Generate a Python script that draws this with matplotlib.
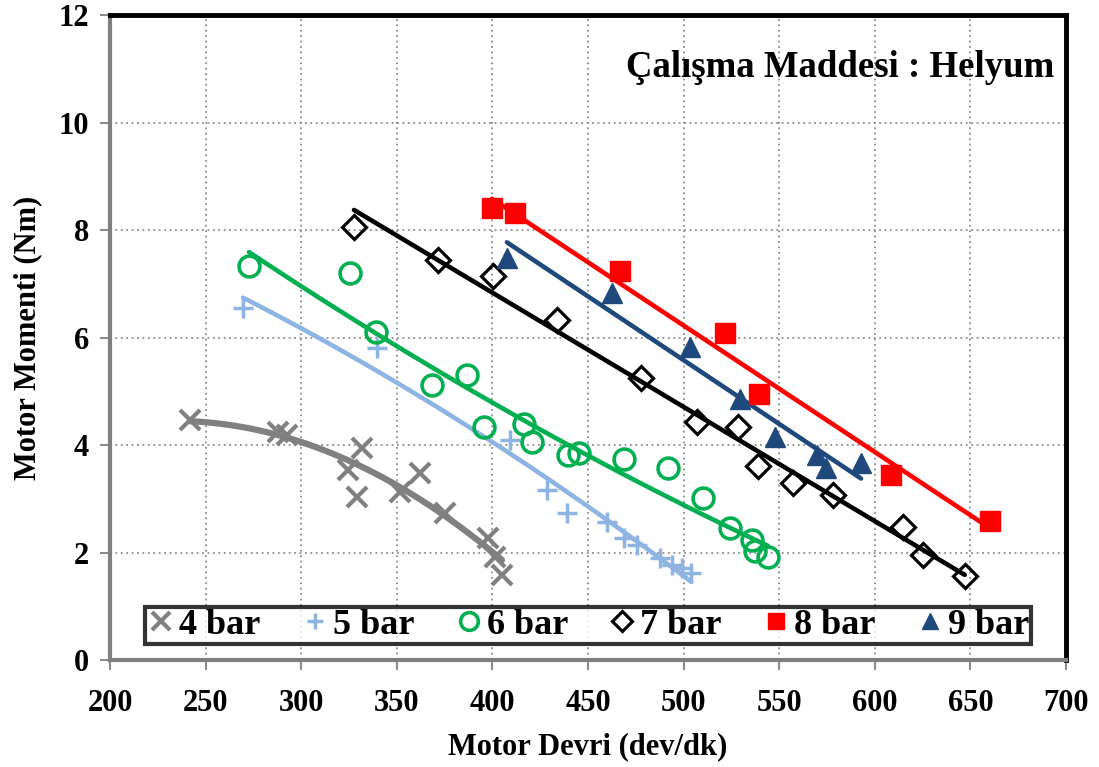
import numpy as np
import matplotlib
matplotlib.use("Agg")
import matplotlib.pyplot as plt
from matplotlib.lines import Line2D

# ---- data ----
x4 = [241.8, 288.0, 292.7, 324.5, 331.8, 329.0, 351.7, 362.0, 375.0, 397.7, 401.4, 405.0]
y4 = [4.47, 4.24, 4.19, 3.53, 3.94, 3.03, 3.13, 3.48, 2.73, 2.27, 1.92, 1.58]

x5 = [269.6, 339.6, 409.2, 428.6, 439.0, 460.0, 469.0, 475.6, 487.7, 494.0, 499.0, 504.0]
y5 = [6.55, 5.80, 4.09, 3.16, 2.73, 2.57, 2.27, 2.14, 1.90, 1.77, 1.71, 1.62]

x6 = [272.7, 325.5, 339.0, 368.4, 386.7, 395.6, 416.5, 420.7, 439.5, 445.3, 468.8, 491.8,
      510.0, 524.3, 535.8, 537.3, 544.0]
y6 = [7.33, 7.20, 6.10, 5.12, 5.30, 4.33, 4.40, 4.06, 3.81, 3.85, 3.74, 3.57,
      3.01, 2.45, 2.23, 2.02, 1.92]

x7 = [327.6, 371.5, 400.3, 433.8, 477.7, 507.0, 528.5, 539.0, 557.0, 578.0, 614.7, 625.0, 647.0]
y7 = [8.06, 7.44, 7.14, 6.33, 5.25, 4.43, 4.33, 3.61, 3.29, 3.07, 2.47, 1.95, 1.57]

x8 = [399.8, 411.8, 466.7, 521.6, 539.4, 608.5, 660.3]
y8 = [8.41, 8.31, 7.24, 6.08, 4.95, 3.44, 2.59]

x9 = [407.6, 462.6, 503.3, 529.5, 547.8, 569.8, 574.5, 592.8]
y9 = [7.48, 6.83, 5.82, 4.85, 4.15, 3.81, 3.57, 3.66]

labels = ["4 bar", "5 bar", "6 bar", "7 bar", "8 bar", "9 bar"]
fit_deg = [2, 2, 2, 1, 1, 1]
title_text = "Çalışma Maddesi : Helyum"
xlabel = "Motor Devri (dev/dk)"
ylabel = "Motor Momenti (Nm)"
xticks = [200, 250, 300, 350, 400, 450, 500, 550, 600, 650, 700]
yticks = [0, 2, 4, 6, 8, 10, 12]

# ---- styles ----
colors = ["#808080", "#8DB4E2", "#00B050", "#000000", "#FF0000", "#1F497D"]
markers = ["x", "+", "o", "D", "s", "^"]
msizes = [15, 14, 15, 12, 14, 14]
mews = [3, 2.5, 2.6, 2.3, 1, 1]
filled = [True, True, False, False, True, True]
lws = [4.5, 3.3, 3.3, 3.3, 3.3, 3.3]

plt.rcParams['font.family'] = ['Liberation Serif', 'DejaVu Serif']
plt.rcParams['font.weight'] = 'bold'

fig = plt.figure(figsize=(10.99, 7.67), dpi=100)
ax = fig.add_axes([0.1001, 0.1395, 0.8699, 0.8409])

xs = [x4, x5, x6, x7, x8, x9]
ys = [y4, y5, y6, y7, y8, y9]

handles = []
for i in range(6):
    x = np.array(xs[i]); y = np.array(ys[i])
    c = np.polyfit(x, y, fit_deg[i])
    xx = np.linspace(x.min(), x.max(), 100)
    ax.plot(xx, np.polyval(c, xx), color=colors[i], lw=lws[i], zorder=3,
            solid_capstyle='round')
    if filled[i]:
        ax.plot(x, y, linestyle='none', marker=markers[i], ms=msizes[i],
                mew=mews[i], color=colors[i], zorder=4)
    else:
        ax.plot(x, y, linestyle='none', marker=markers[i], ms=msizes[i],
                mew=mews[i], markeredgecolor=colors[i], markerfacecolor='none', zorder=4)
    h = Line2D([], [], linestyle='none', marker=markers[i], ms=msizes[i] * 0.85,
               mew=mews[i], color=colors[i],
               markerfacecolor=(colors[i] if filled[i] else 'none'))
    handles.append(h)

ax.set_xlim(200, 700)
ax.set_ylim(0, 12)
ax.set_xticks(xticks)
ax.set_yticks(yticks)
ax.grid(True, color='#8c8c8c', linestyle=(0, (1, 2)), lw=1.3, zorder=0)
ax.set_axisbelow(True)

for s in ['left', 'bottom']:
    ax.spines[s].set_color('#7f7f7f')
    ax.spines[s].set_linewidth(3)
for s in ['top', 'right']:
    ax.spines[s].set_color('black')
    ax.spines[s].set_linewidth(3.5)

ax.tick_params(axis='both', direction='out', length=7, width=1.5, color='#8c8c8c',
               labelsize=22, pad=8)
for lab in ax.get_xticklabels() + ax.get_yticklabels():
    lab.set_fontweight('bold')
ax.tick_params(axis='x', pad=14)

ax.set_xlabel(xlabel, fontsize=22, fontweight='bold', labelpad=10)
ax.set_ylabel(ylabel, fontsize=22, fontweight='bold', labelpad=12)

ax.text(0.988, 0.918, title_text, transform=ax.transAxes, ha='right', va='center',
        fontsize=26.5, fontweight='bold')

leg = ax.legend(handles, labels, loc='lower center', bbox_to_anchor=(0.5, 0.025),
                ncol=6, frameon=True, fancybox=False, fontsize=26,
                handlelength=0.8, handletextpad=0.1, columnspacing=1.1,
                borderpad=0.05, borderaxespad=0.0)
leg.get_frame().set_edgecolor('black')
leg.get_frame().set_linewidth(3)
for t in leg.get_texts():
    t.set_fontweight('bold')

fig.savefig("out.png", dpi=100)
